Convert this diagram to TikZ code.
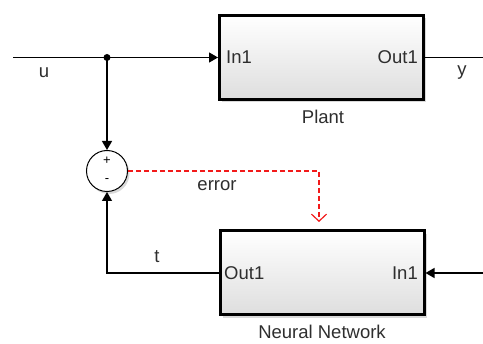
\documentclass[tikz,border=0pt]{standalone}
\usepackage{fontspec}
\setmainfont{Liberation Sans}
\usetikzlibrary{arrows.meta,shadows,calc}
\definecolor{txt}{HTML}{2E2E2E}
\definecolor{errred}{HTML}{F21A1A}
\tikzset{
  block/.style={draw=black, line width=3pt, top color=white, bottom color=black!13,
    minimum width=204pt, minimum height=84pt, inner sep=0pt,
    drop shadow={opacity=0.3, shadow xshift=2.5pt, shadow yshift=-3pt}},
  lbl/.style={text=txt, font=\fontsize{18.5}{21}\selectfont, inner sep=0pt},
  signlbl/.style={text=black, font=\fontsize{13}{14}\selectfont, inner sep=0pt},
  sig/.style={line width=1.3pt, -{Triangle[length=9pt,width=10pt]}},
  wire/.style={line width=1.3pt},
  errsig/.style={draw=errred, line width=1.2pt, dash pattern=on 5pt off 3pt,
    -{Straight Barb[length=7pt,width=15pt,line width=1.2pt]}},
  sumnode/.style={circle, draw=black, line width=1pt, fill=white, minimum size=41pt, inner sep=0pt,
    drop shadow={opacity=0.3, shadow xshift=2pt, shadow yshift=-2.5pt}},
  dot/.style={circle, fill=black, minimum size=7pt, inner sep=0pt}
}
\begin{document}
\begin{tikzpicture}[x=1pt,y=-1pt]
\useasboundingbox (0,0) rectangle (483,344);
\node[block] (plant) at (321.5,57.5) {};
\node[block] (nn) at (322,273) {};
\node[sumnode] (sum) at (107,171) {};
\node[signlbl] (sp) at (107,161) {+};
\node[signlbl] (sm) at (107,181) {-};
\node[dot] (junc) at (107,57.5) {};
\coordinate (uin) at (13,57.5);
\coordinate (yout) at (483,57.5);
\coordinate (nnin) at (483,273);
\coordinate (errend) at (319,222);
% port labels
\node[lbl, anchor=west] (pin) at (226,57.5) {In1};
\node[lbl, anchor=east] (pout) at (418,57.5) {Out1};
\node[lbl, anchor=west] (nout) at (224,273) {Out1};
\node[lbl, anchor=east] (nin) at (418,273) {In1};
\node[lbl] (plantname) at (323,117) {Plant};
\node[lbl] (nnname) at (322,332) {Neural Network};
\node[lbl] (ulbl) at (44,73) {u};
\node[lbl] (ylbl) at (462,73) {y};
\node[lbl] (errlbl) at (217,186) {error};
\node[lbl] (tlbl) at (157,257) {t};
% connectors
\draw[sig] (uin) -- (plant.west);
\draw[sig] (junc.center) -- (sum.north);
\draw[wire] (plant.east) -- (yout);
\draw[sig] (nnin) -- (nn.east);
\draw[sig] (nn.west) -| (sum.south);
\draw[errsig] (sum.east) -| (errend);
\end{tikzpicture}
\end{document}
